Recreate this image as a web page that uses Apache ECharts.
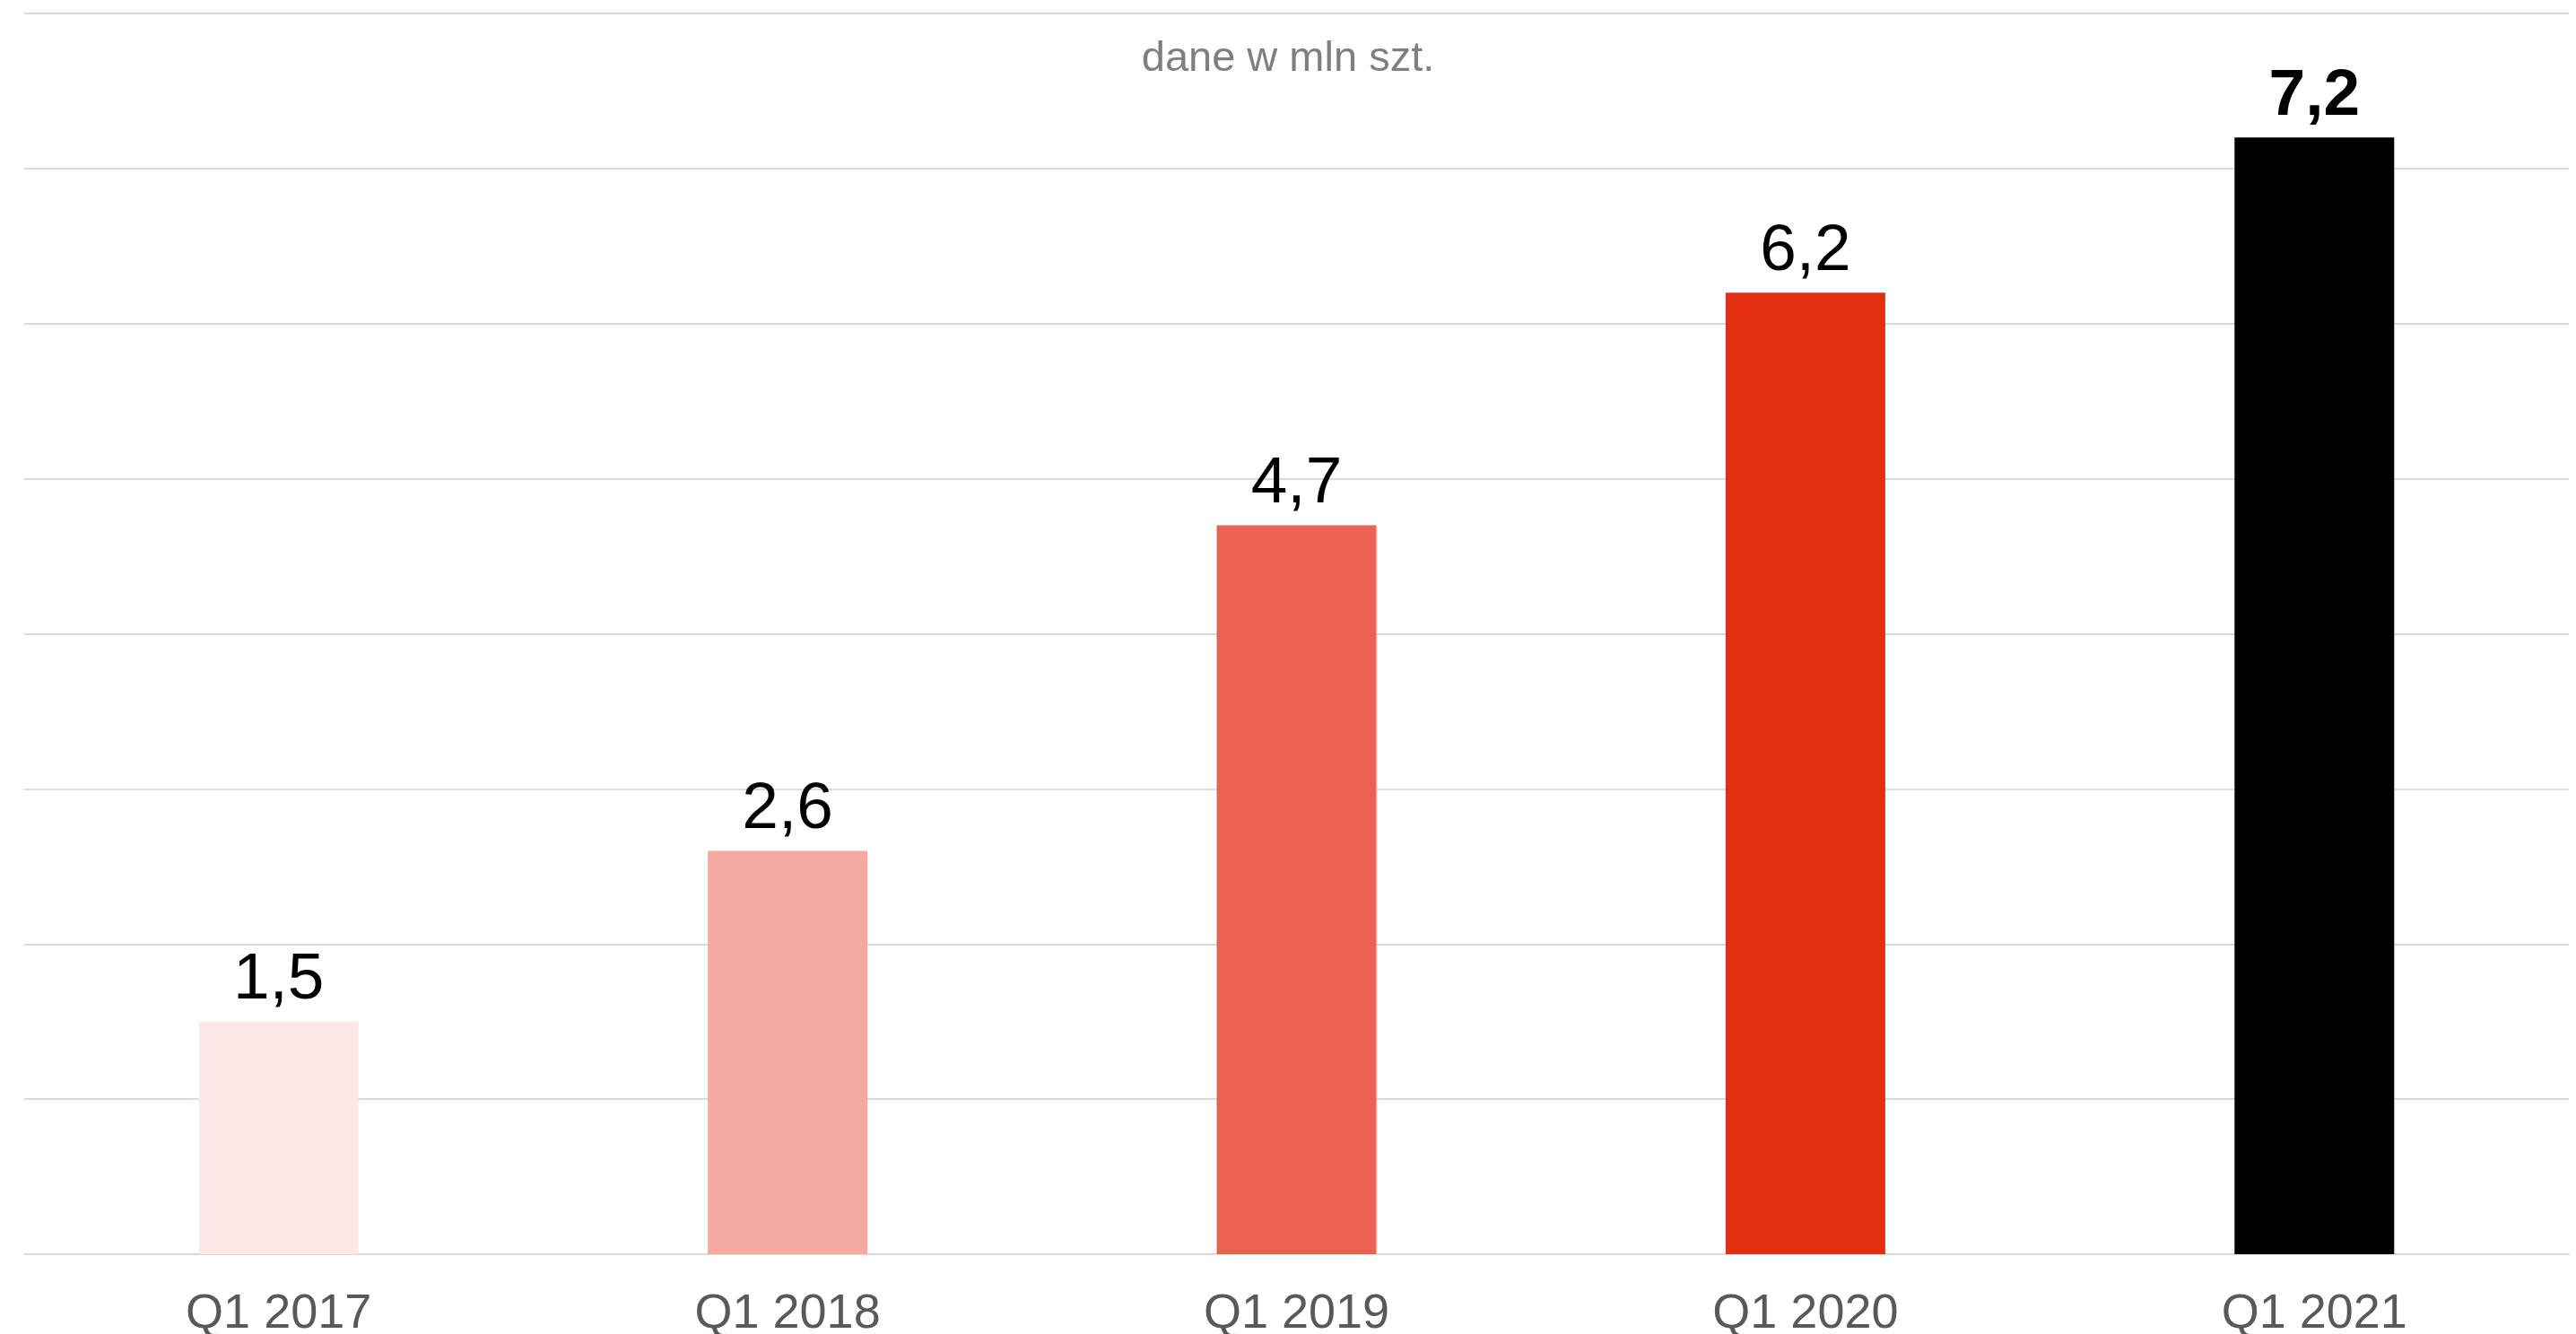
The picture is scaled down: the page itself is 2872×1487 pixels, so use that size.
<!DOCTYPE html>
<html>
<head>
<meta charset="utf-8">
<script src="https://cdn.jsdelivr.net/npm/echarts@6/dist/echarts.min.js"></script>
<style>
	html, body { margin: 0; padding: 0; background: #fff; }
	#chart { width: 2872px; height: 1487px; }
</style>
</head>
<body>
<div id="chart"></div>
<script>
var categories = ['Q1 2017', 'Q1 2018', 'Q1 2019', 'Q1 2020', 'Q1 2021'];
var values = [1.5, 2.6, 4.7, 6.2, 7.2];
var barColors = ['#FCE8E6', '#F4AA9E', '#EB6350', '#E42E14', '#000000'];
var boldLast = [false, false, false, false, true];

var chart = echarts.init(document.getElementById('chart'));

var seriesData = values.map(function(v, i){
	return {
		value: v,
		itemStyle: { color: barColors[i] },
		label: { fontWeight: boldLast[i] ? 'bold' : 'normal' }
	};
});

chart.setOption({
	animation: false,
	backgroundColor: '#ffffff',
	title: {
		text: 'dane w mln szt.',
		left: 'center',
		top: 38,
		textStyle: {
			fontFamily: 'Liberation Sans, Arial, sans-serif',
			fontSize: 47,
			fontWeight: 'normal',
			color: '#7f7f7f'
		}
	},
	grid: { left: 27, right: 8, top: 15, bottom: 89, containLabel: false, outerBoundsMode: 'none' },
	xAxis: {
		type: 'category',
		data: categories,
		axisLine: { show: true, lineStyle: { color: '#d9d9d9', width: 2 } },
		axisTick: { show: false },
		axisLabel: {
			margin: 40,
			fontFamily: 'Liberation Sans, Arial, sans-serif',
			fontSize: 54,
			color: '#595959'
		}
	},
	yAxis: {
		type: 'value',
		min: 0,
		max: 8,
		interval: 1,
		axisLabel: { show: false },
		axisLine: { show: false },
		axisTick: { show: false },
		splitLine: { lineStyle: { color: '#d9d9d9', width: 2 } }
	},
	series: [{
		type: 'bar',
		data: seriesData,
		barWidth: 178,
		label: {
			show: true,
			position: 'top',
			distance: 9,
			fontFamily: 'Liberation Sans, Arial, sans-serif',
			fontSize: 73,
			color: '#000000',
			formatter: function(p){
				return String(p.value).replace('.', ',');
			}
		}
	}]
});
</script>
</body>
</html>
